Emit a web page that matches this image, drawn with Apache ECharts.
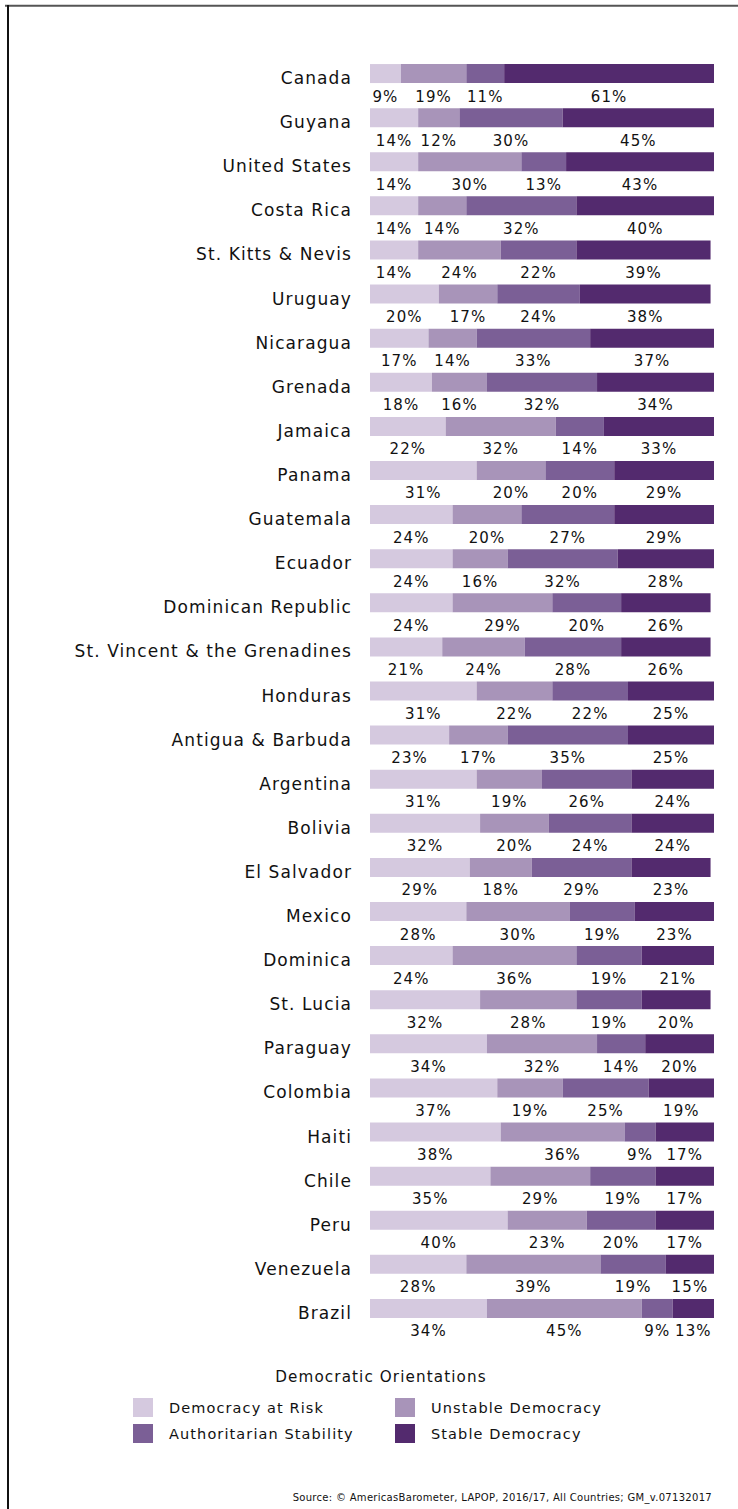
<!DOCTYPE html>
<html>
<head>
<meta charset="utf-8">
<title>Democratic Orientations</title>
<script src="https://cdn.jsdelivr.net/npm/echarts@6/dist/echarts.min.js"></script>
<style>
  html, body { margin: 0; padding: 0; background: #fff; }
  #chart { width: 738px; height: 1509px; }
  /* slightly tracked lettering for all chart text; the footnote stays tighter */
  #chart text { letter-spacing: 1.1px; }
  #chart text[style*="10px"] { letter-spacing: 0.3px; }
</style>
</head>
<body>
<div id="chart"></div>
<script>
// Countries, top to bottom
const countries = [
  'Canada', 'Guyana', 'United States', 'Costa Rica', 'St. Kitts & Nevis', 'Uruguay',
  'Nicaragua', 'Grenada', 'Jamaica', 'Panama', 'Guatemala', 'Ecuador',
  'Dominican Republic', 'St. Vincent & the Grenadines', 'Honduras', 'Antigua & Barbuda',
  'Argentina', 'Bolivia', 'El Salvador', 'Mexico', 'Dominica', 'St. Lucia',
  'Paraguay', 'Colombia', 'Haiti', 'Chile', 'Peru', 'Venezuela', 'Brazil'
];

// Share of respondents (%) in each orientation, same order as countries
const democracyAtRisk = [9, 14, 14, 14, 14, 20, 17, 18, 22, 31, 24, 24, 24, 21, 31, 23, 31, 32, 29, 28, 24, 32, 34, 37, 38, 35, 40, 28, 34];
const unstableDemocracy = [19, 12, 30, 14, 24, 17, 14, 16, 32, 20, 20, 16, 29, 24, 22, 17, 19, 20, 18, 30, 36, 28, 32, 19, 36, 29, 23, 39, 45];
const authoritarianStability = [11, 30, 13, 32, 22, 24, 33, 32, 14, 20, 27, 32, 20, 28, 22, 35, 26, 24, 29, 19, 19, 19, 14, 25, 9, 19, 20, 19, 9];
const stableDemocracy = [61, 45, 43, 40, 39, 38, 37, 34, 33, 29, 29, 28, 26, 26, 25, 25, 24, 24, 23, 23, 21, 20, 20, 19, 17, 17, 17, 15, 13];

const seriesNames = ['Democracy at Risk', 'Unstable Democracy', 'Authoritarian Stability', 'Stable Democracy'];
const seriesData = [democracyAtRisk, unstableDemocracy, authoritarianStability, stableDemocracy];
const seriesColors = ['#d5c9df', '#a894b9', '#7b5f96', '#532a6e'];

const FONT = '"DejaVu Sans", Verdana, sans-serif';

const chart = echarts.init(document.getElementById('chart'), null, { renderer: 'svg' });

const series = seriesNames.map((name, i) => ({
  name: name,
  type: 'bar',
  stack: 'total',
  barWidth: 19,
  data: seriesData[i],
  itemStyle: { color: seriesColors[i] },
  emphasis: { disabled: true },
  label: {
    show: true,
    position: 'bottom',
    distance: 6,
    formatter: '{c}%',
    color: '#111',
    fontFamily: FONT,
    fontSize: 15
  }
}));

const legendBase = {
  orient: 'vertical',
  top: 1393,
  icon: 'rect',
  itemWidth: 20,
  itemHeight: 19,
  itemGap: 7,
  selectedMode: false,
  textStyle: { color: '#111', fontFamily: FONT, fontSize: 14.5, padding: [0, 0, 0, 11] }
};

chart.setOption({
  animation: false,
  backgroundColor: '#fff',
  textStyle: { fontFamily: FONT },
  grid: { left: 370, right: 24, top: 51.5, bottom: 178.5, containLabel: false },
  xAxis: {
    type: 'value',
    min: 0,
    max: 100,
    show: false
  },
  yAxis: {
    type: 'category',
    data: countries,
    inverse: true,
    axisLine: { show: false },
    axisTick: { show: false },
    axisLabel: {
      margin: 18,
      color: '#111',
      fontFamily: FONT,
      fontSize: 17,
      verticalAlign: 'top',
      lineHeight: 9
    }
  },
  legend: [
    Object.assign({ data: [seriesNames[0], seriesNames[2]], left: 128 }, legendBase),
    Object.assign({ data: [seriesNames[1], seriesNames[3]], left: 390 }, legendBase)
  ],
  graphic: [
    {
      type: 'line',
      shape: { x1: 5, y1: 5.7, x2: 738, y2: 5.7 },
      style: { stroke: '#555', lineWidth: 2 }
    },
    {
      type: 'line',
      shape: { x1: 8, y1: 5, x2: 8, y2: 1509 },
      style: { stroke: '#111', lineWidth: 2 }
    },
    {
      type: 'text',
      x: 381,
      y: 1377,
      style: {
        text: 'Democratic Orientations',
        fill: '#111',
        font: '15.2px ' + FONT,
        textAlign: 'center',
        textVerticalAlign: 'middle'
      }
    },
    {
      type: 'text',
      x: 712,
      y: 1497,
      style: {
        text: 'Source: © AmericasBarometer, LAPOP, 2016/17, All Countries; GM_v.07132017',
        fill: '#111',
        font: '10px ' + FONT,
        textAlign: 'right',
        textVerticalAlign: 'middle'
      }
    }
  ],
  series: series
});
</script>
</body>
</html>
